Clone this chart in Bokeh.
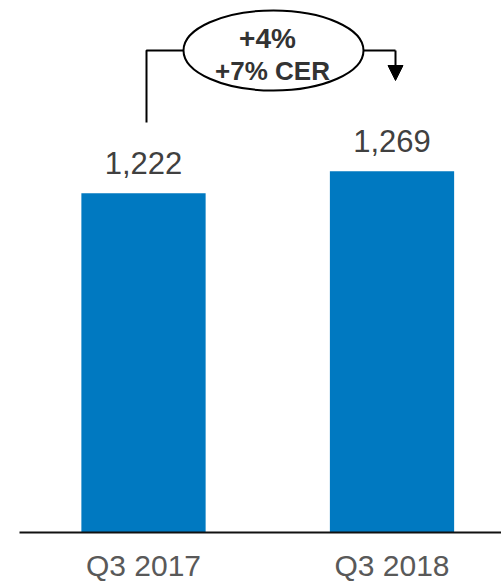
from bokeh.plotting import figure
from bokeh.models import Range1d, Arrow, NormalHead, FixedTicker
from bokeh.embed import file_html
from bokeh.resources import INLINE
from bokeh.core.properties import value

# ---- data ----
categories = ["Q3 2017", "Q3 2018"]
revenue = [1222, 1269]
value_labels = [f"{v:,}" for v in revenue]
change_main = "+4%"
change_cer = "+7% CER"

# ---- layout helpers ----
W, H = 501, 584
FRAME_L, FRAME_B = 19, 532
X0, X1 = -0.499, 1.4406
Y0, Y1 = 497.2, 1633.7
FONT = value("Liberation Sans")


def px(x):
    return X0 + (x - FRAME_L) * (X1 - X0) / (W - FRAME_L)


def py(y):
    return Y0 + (FRAME_B - y) * (Y1 - Y0) / FRAME_B


xs = list(range(len(categories)))

p = figure(width=W, height=H, output_backend="svg", toolbar_location=None,
           x_range=Range1d(X0, X1), y_range=Range1d(Y0, Y1),
           y_axis_location=None, min_border_left=FRAME_L, min_border_right=0,
           min_border_top=0, min_border_bottom=0)
p.outline_line_color = None
p.background_fill_color = "white"
p.border_fill_color = "white"
p.xgrid.visible = False
p.ygrid.visible = False

p.vbar(x=xs, top=revenue, bottom=0, width=0.5, fill_color="#0079C1", line_color=None)

p.text(x=xs, y=revenue, text=value_labels, text_align="center", text_baseline="middle",
       y_offset=-30, text_font=FONT, text_font_size="31px", text_color="#404040")

ax = p.xaxis[0]
ax.ticker = FixedTicker(ticks=xs)
ax.major_label_overrides = {i: c for i, c in zip(xs, categories)}
ax.major_tick_line_color = None
ax.minor_tick_line_color = None
ax.axis_line_color = "#111111"
ax.axis_line_width = 2
ax.major_label_text_font = "Liberation Sans"
ax.major_label_text_font_size = "30px"
ax.major_label_text_color = "#595959"
ax.major_label_standoff = 10

# bracket
p.line(x=[px(146), px(146), px(183)], y=[py(122), py(50), py(50)], line_color="black", line_width=2)
p.line(x=[px(363), px(395)], y=[py(50), py(50)], line_color="black", line_width=2)
p.add_layout(Arrow(x_start=px(395), y_start=py(50), x_end=px(395), y_end=py(80),
                   line_color="black", line_width=2,
                   end=NormalHead(size=15, fill_color="black", line_color="black")))
p.ellipse(x=[px(273)], y=[py(50)], width=180, height=80, width_units="screen",
          height_units="screen", fill_color="white", line_color="black", line_width=2)
p.text(x=[px(267)], y=[py(38)], text=[change_main], text_align="center", text_baseline="middle",
       text_font=FONT, text_font_size="28px", text_font_style="bold", text_color="#333333")
p.text(x=[px(272)], y=[py(70)], text=[change_cer], text_align="center", text_baseline="middle",
       text_font=FONT, text_font_size="26px", text_font_style="bold", text_color="#333333")

open("out.html", "w").write(file_html(p, INLINE))
